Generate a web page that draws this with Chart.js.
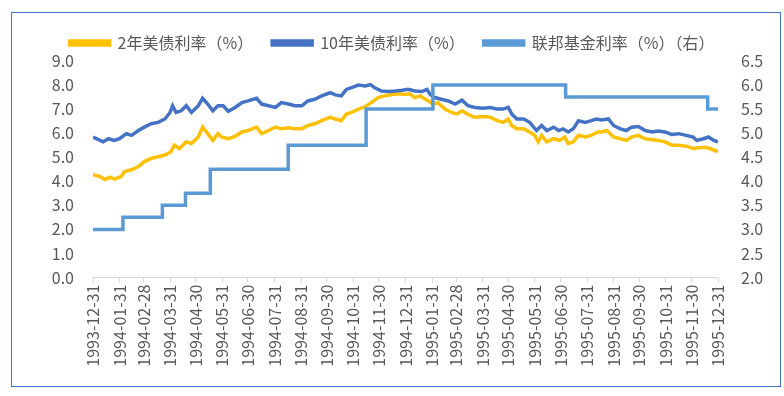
<!DOCTYPE html>
<html lang="zh-CN">
<head>
<meta charset="utf-8">
<title>美债利率与联邦基金利率</title>
<script src="https://cdn.jsdelivr.net/npm/chart.js@4.4.1/dist/chart.umd.min.js"></script>
<style>
  html, body { margin: 0; padding: 0; background: #fff; }
  #wrap { position: relative; width: 784px; height: 396px; }
  #frame {
    position: absolute; left: 11px; top: 12px; width: 770px; height: 375px;
    box-sizing: border-box; border: 1px solid #4472C4; pointer-events: none;
  }
</style>
</head>
<body>
<div id="wrap">
  <canvas id="rateChart" width="784" height="396"></canvas>
  <div id="frame"></div>
</div>
<script>
// ── Data (x = days since 1993-12-31) ─────────────────────────
const monthEndDays = [0, 31, 59, 90, 120, 151, 181, 212, 243, 273, 304, 334, 365,
  396, 424, 455, 485, 516, 546, 577, 608, 638, 669, 699, 730];
const monthEndLabels = ['1993-12-31', '1994-01-31', '1994-02-28', '1994-03-31', '1994-04-30',
  '1994-05-31', '1994-06-30', '1994-07-31', '1994-08-31', '1994-09-30', '1994-10-31',
  '1994-11-30', '1994-12-31', '1995-01-31', '1995-02-28', '1995-03-31', '1995-04-30',
  '1995-05-31', '1995-06-30', '1995-07-31', '1995-08-31', '1995-09-30', '1995-10-31',
  '1995-11-30', '1995-12-31'];

const twoYearDays = [0, 8, 14, 20, 25, 33, 37, 45, 53, 60, 68, 76, 84, 91, 95, 101, 109, 115, 123, 128, 134, 140, 146,
  150, 158, 166, 174, 181, 191, 197, 205, 213, 220, 228, 236, 244, 251, 259, 267, 277, 283, 290, 296,
  302, 310, 318, 325, 333, 341, 349, 357, 364, 370, 376, 382, 388, 392, 397, 403, 411, 419, 425, 431, 438, 446,
  456, 464, 472, 479, 485, 489, 495, 503, 510, 516, 520, 524, 530, 538, 545, 551, 555, 561, 567, 575, 582, 590,
  594, 600, 608, 616, 623, 629, 637, 645, 653, 660, 668, 676, 684, 693, 701, 709, 717, 725, 730];
const twoYearRates = [4.27, 4.20, 4.07, 4.17, 4.09, 4.20, 4.41, 4.48, 4.61, 4.82, 4.95, 5.02, 5.09, 5.23, 5.50, 5.36, 5.64, 5.57, 5.84, 6.25, 5.98, 5.70, 5.98,
  5.84, 5.77, 5.87, 6.05, 6.11, 6.25, 5.98, 6.11, 6.25, 6.18, 6.22, 6.18, 6.18, 6.32, 6.39, 6.52, 6.66, 6.59, 6.52, 6.80,
  6.86, 7.00, 7.10, 7.27, 7.48, 7.55, 7.61, 7.64, 7.61, 7.64, 7.48, 7.55, 7.41, 7.34, 7.21, 7.27, 7.00, 6.86, 6.80, 6.93, 6.78, 6.66,
  6.69, 6.66, 6.52, 6.45, 6.59, 6.32, 6.18, 6.18, 6.05, 5.91, 5.64, 5.91, 5.64, 5.77, 5.70, 5.84, 5.57, 5.64, 5.91, 5.84, 5.91, 6.05,
  6.05, 6.11, 5.84, 5.77, 5.70, 5.84, 5.91, 5.77, 5.73, 5.70, 5.64, 5.50, 5.50, 5.46, 5.36, 5.40, 5.40, 5.30, 5.23];

const tenYearDays = [0, 12, 18, 25, 31, 39, 45, 53, 60, 68, 76, 84, 90, 93, 97, 103, 109, 115, 123, 128, 134, 140, 146, 152,
  158, 166, 174, 181, 191, 197, 205, 213, 220, 228, 236, 244, 251, 259, 267, 277, 283, 290, 296,
  302, 310, 318, 324, 329, 337, 345, 353, 361, 368, 376, 384, 390, 394, 399, 407, 415, 423, 431, 438, 446,
  456, 464, 472, 479, 485, 489, 495, 503, 510, 518, 524, 530, 538, 544, 549, 555, 561, 567, 575, 582, 588,
  594, 602, 608, 616, 623, 629, 637, 645, 653, 660, 668, 676, 684, 693, 701, 705, 713, 719, 725, 730];
const tenYearRates = [5.84, 5.64, 5.77, 5.70, 5.77, 5.98, 5.91, 6.11, 6.25, 6.39, 6.45, 6.59, 6.86, 7.14, 6.86, 6.93, 7.14, 6.86, 7.14, 7.45, 7.21, 6.93, 7.14, 7.14,
  6.91, 7.07, 7.27, 7.34, 7.45, 7.21, 7.14, 7.07, 7.27, 7.21, 7.14, 7.14, 7.34, 7.41, 7.55, 7.68, 7.59, 7.55, 7.82,
  7.89, 8.00, 7.96, 8.02, 7.89, 7.75, 7.73, 7.75, 7.78, 7.82, 7.75, 7.73, 7.82, 7.61, 7.48, 7.41, 7.34, 7.21, 7.37, 7.14, 7.07,
  7.04, 7.07, 7.00, 7.00, 7.07, 6.80, 6.59, 6.59, 6.45, 6.11, 6.32, 6.11, 6.25, 6.11, 6.18, 6.05, 6.18, 6.52, 6.45, 6.52, 6.59,
  6.55, 6.59, 6.32, 6.18, 6.11, 6.25, 6.28, 6.11, 6.05, 6.09, 6.05, 5.95, 5.98, 5.91, 5.84, 5.70, 5.77, 5.84, 5.70, 5.64];

// fed funds target: value holds from each change date
const fedDays  = [0, 35, 81, 108, 137, 228, 319, 397, 552, 718, 730];
const fedRates = [3.00, 3.25, 3.50, 3.75, 4.25, 4.75, 5.50, 6.00, 5.75, 5.50, 5.50];

const seriesNames = ['2年美债利率（%）', '10年美债利率（%）', '联邦基金利率（%）（右）'];

// ── Helpers ──────────────────────────────────────────────────
const toPoints = (xs, ys) => xs.map((x, i) => ({ x, y: ys[i] }));
const FONT = "'Noto Sans CJK SC', 'Noto Sans', sans-serif";
const TEXT = '#595959';

Chart.defaults.font.family = FONT;
Chart.defaults.color = TEXT;

// ── Chart ────────────────────────────────────────────────────
new Chart(document.getElementById('rateChart'), {
  type: 'line',
  data: {
    datasets: [
      {
        label: seriesNames[0],
        data: toPoints(twoYearDays, twoYearRates),
        borderColor: '#FFC000', backgroundColor: '#FFC000',
        borderWidth: 3.5, pointRadius: 0, yAxisID: 'y', order: 3,
      },
      {
        label: seriesNames[1],
        data: toPoints(tenYearDays, tenYearRates),
        borderColor: '#4472C4', backgroundColor: '#4472C4',
        borderWidth: 3.5, pointRadius: 0, yAxisID: 'y', order: 2,
      },
      {
        label: seriesNames[2],
        data: toPoints(fedDays, fedRates),
        borderColor: '#5B9BD5', backgroundColor: '#5B9BD5',
        borderWidth: 3.5, pointRadius: 0, stepped: true, yAxisID: 'y1', order: 1,
      },
    ]
  },
  options: {
    responsive: false,
    animation: false,
    layout: { padding: { top: 24, left: 0, right: 0, bottom: 0 } },
    plugins: {
      tooltip: { enabled: false },
      legend: {
        position: 'top',
        labels: {
          boxWidth: 40,
          boxHeight: 4,
          padding: 11,
          color: TEXT,
          font: { size: 16 },
          sort: (a, b) => a.datasetIndex - b.datasetIndex,
          // an ideographic space widens the gap between items
          generateLabels: chart => Chart.defaults.plugins.legend.labels.generateLabels(chart)
            .map(item => ({ ...item, text: item.datasetIndex < 2 ? item.text + '\u3000' : item.text })),
        }
      }
    },
    scales: {
      x: {
        type: 'linear',
        min: 0, max: 730,
        afterBuildTicks: axis => { axis.ticks = monthEndDays.map(v => ({ value: v })); },
        afterFit: axis => { axis.height = 118.5; },
        grid: { drawOnChartArea: false, drawTicks: true, tickLength: 5, color: '#D9D9D9' },
        border: { color: '#D9D9D9' },
        ticks: {
          autoSkip: false, minRotation: 90, maxRotation: 90, padding: 2,
          font: { size: 16 }, color: TEXT,
          callback: (v, i) => monthEndLabels[i],
        },
      },
      y: {
        position: 'left',
        min: 0, max: 9,
        afterFit: axis => { axis.width = 93; },
        grid: { display: false },
        border: { display: false },
        ticks: { stepSize: 1, padding: 11, font: { size: 16 }, color: TEXT, callback: v => v.toFixed(1) },
      },
      y1: {
        position: 'right',
        min: 2, max: 6.5,
        afterFit: axis => { axis.width = 66; },
        grid: { display: false },
        border: { display: false },
        ticks: { stepSize: 0.5, padding: 15, font: { size: 16 }, color: TEXT, callback: v => v.toFixed(1) },
      },
    },
  }
});
</script>
</body>
</html>
